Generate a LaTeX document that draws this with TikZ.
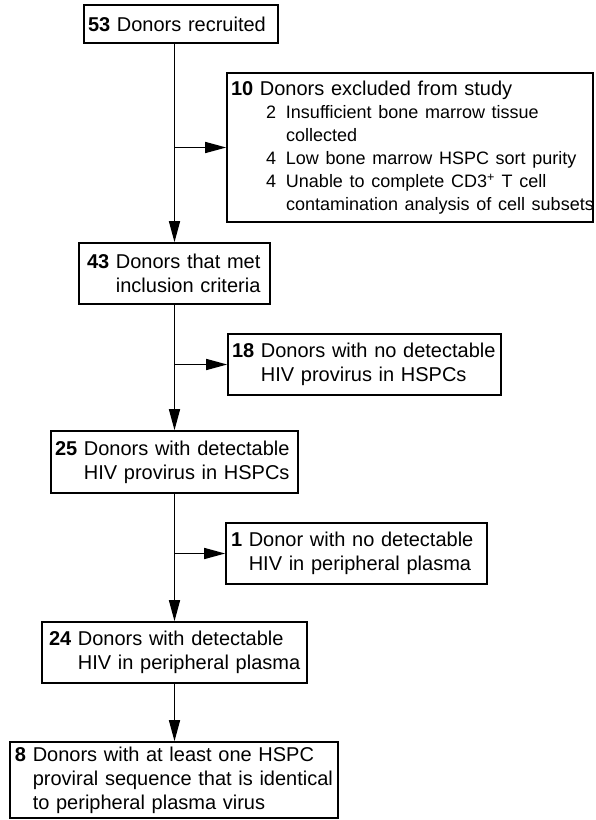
\documentclass[tikz,border=0pt]{standalone}
\usepackage{fontspec}
\setmainfont{Liberation Sans}
\usetikzlibrary{arrows.meta}
\newcommand{\subfont}{\fontsize{18}{23}\selectfont}
\tikzset{
  box/.style={draw=black, line width=1.6pt, inner ysep=0pt, align=left,
    font=\fontsize{20}{24}\selectfont, anchor=center},
  flow/.style={line width=1.5pt, -{Triangle[length=21pt,width=11pt]}}
}
\begin{document}
\begin{tikzpicture}[x=1pt,y=-1pt]
\useasboundingbox (0,0) rectangle (595,820);
\node[box, minimum width=194pt, minimum height=38pt, text width=186pt, inner xsep=4pt] (b1) at (181,24)
  {\mbox{\textbf{53} Donors recruited}};
\node[box, minimum width=366pt, minimum height=149pt, text width=358pt, inner xsep=4pt,
  font=\fontsize{20}{23}\selectfont] (b2) at (410,147.5)
  {\mbox{\textbf{10} Donors excluded from study}\\
   \mbox{\subfont\hspace*{35pt}\makebox[20pt][l]{2}Insufficient bone marrow tissue}\\
   \mbox{\subfont\hspace*{55pt}collected}\\
   \mbox{\subfont\hspace*{35pt}\makebox[20pt][l]{4}Low bone marrow HSPC sort purity}\\
   \mbox{\subfont\hspace*{35pt}\makebox[20pt][l]{4}Unable to complete CD3\textsuperscript{+} T cell}\\
   \mbox{\subfont\hspace*{55pt}contamination analysis of cell subsets}};
\node[box, minimum width=191pt, minimum height=61pt, text width=175pt, inner xsep=8pt] (b3) at (174.5,273.5)
  {\mbox{\textbf{43} Donors that met}\\
   \mbox{\phantom{\textbf{43} }inclusion criteria}};
\node[box, minimum width=273pt, minimum height=61pt, text width=265pt, inner xsep=4pt] (b4) at (364.5,364.5)
  {\mbox{\textbf{18} Donors with no detectable}\\
   \mbox{\phantom{\textbf{18} }HIV provirus in HSPCs}};
\node[box, minimum width=247pt, minimum height=62pt, text width=239pt, inner xsep=4pt] (b5) at (174.5,462)
  {\mbox{\textbf{25} Donors with detectable}\\
   \mbox{\phantom{\textbf{25} }HIV provirus in HSPCs}};
\node[box, minimum width=261pt, minimum height=61pt, text width=251pt, inner xsep=5pt] (b6) at (356.5,553.5)
  {\mbox{\textbf{1} Donor with no detectable}\\
   \mbox{\phantom{\textbf{1} }HIV in peripheral plasma}};
\node[box, minimum width=265pt, minimum height=61pt, text width=251pt, inner xsep=7pt] (b7) at (174.5,652.5)
  {\mbox{\textbf{24} Donors with detectable}\\
   \mbox{\phantom{\textbf{24} }HIV in peripheral plasma}};
\node[box, minimum width=328pt, minimum height=76pt, text width=318pt, inner xsep=5pt] (b8) at (174,780)
  {\mbox{\textbf{8} Donors with at least one HSPC}\\
   \mbox{\phantom{\textbf{8} }proviral sequence that is identical}\\
   \mbox{\phantom{\textbf{8} }to peripheral plasma virus}};
\draw[flow] (b3.north |- b1.south) -- (b3.north);
\draw[flow] (b3.north |- b2.west) -- (b2.west);
\draw[flow] (b3.south) -- (b5.north);
\draw[flow] (b3.south |- b4.west) -- (b4.west);
\draw[flow] (b5.south) -- (b7.north);
\draw[flow] (b5.south |- b6.west) -- (b6.west);
\draw[flow] (b7.south) -- (b7.south |- b8.north);
\end{tikzpicture}
\end{document}
